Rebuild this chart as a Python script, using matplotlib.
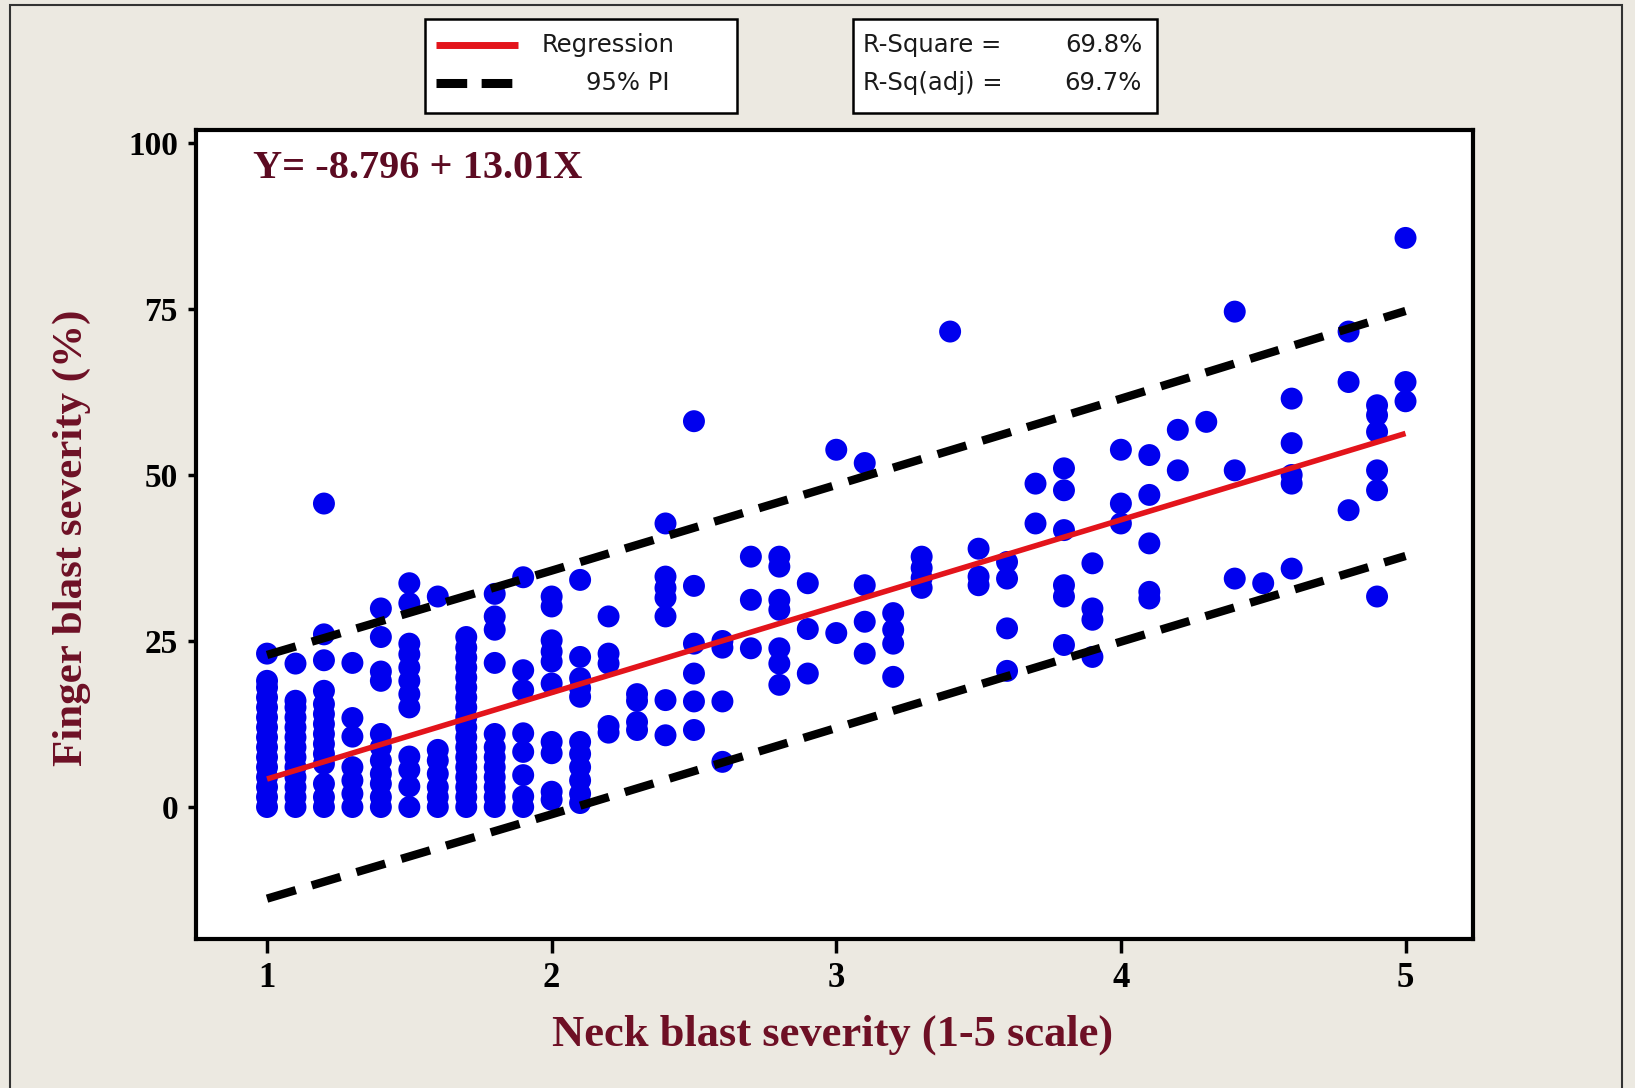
import matplotlib
matplotlib.use("Agg")
import matplotlib.pyplot as plt
from matplotlib.lines import Line2D
from matplotlib.patches import Rectangle

# neck blast score levels and the finger blast readings observed at each level
neck_levels = [1.0, 1.1, 1.2, 1.3, 1.4, 1.5, 1.6, 1.7, 1.8, 1.9,
               2.0, 2.1, 2.2, 2.3, 2.4, 2.5, 2.6, 2.7, 2.8, 2.9,
               3.0, 3.1, 3.2, 3.3, 3.4, 3.5, 3.6, 3.7, 3.8, 3.9,
               4.0, 4.1, 4.2, 4.3, 4.4, 4.5, 4.6, 4.8, 4.9, 5.0]
finger_at_level = [
    [0, 1.5, 3, 4.5, 6, 7.5, 9, 10.5, 12, 13.5, 15, 16.5, 18, 19, 23.1],
    [0, 1.5, 3, 4.5, 6, 7.5, 9, 10.5, 12, 13.5, 15, 16, 21.6],
    [0, 1.5, 3.5, 6.5, 8, 9.5, 11, 12.5, 14, 15.5, 17.5, 22.1, 26, 45.7],
    [0, 2, 4, 6, 10.6, 13.4, 21.7],
    [0, 1.5, 3.5, 5, 7, 9, 11, 19, 20.4, 25.6, 29.9],
    [0, 3.1, 5.6, 7.6, 15, 17, 19, 21, 23, 24.6, 30.7, 33.7],
    [0, 1.5, 3, 5, 7, 8.6, 31.7],
    [0, 1.5, 3, 4.5, 6, 7.5, 9, 10.5, 12, 13.5, 15, 16.5, 18, 19.5, 21, 22.5, 24, 25.6],
    [0, 1.5, 3, 4.5, 6, 7.5, 9, 11, 21.7, 26.7, 28.7, 32.1],
    [0, 1.6, 4.8, 8.3, 11.1, 17.6, 20.6, 34.6],
    [1.1, 2.3, 8.1, 9.8, 18.6, 21.9, 23.4, 25.1, 30.2, 31.7],
    [0.6, 2, 4, 6, 8, 9.8, 16.6, 17.9, 19.4, 22.6, 34.2],
    [11.2, 12.2, 21.6, 23.1, 28.7],
    [11.6, 12.8, 16, 17],
    [10.8, 16.1, 28.7, 31.5, 33, 34.7, 42.7],
    [11.6, 15.9, 20.1, 24.6, 33.3, 58.1],
    [6.8, 15.9, 24, 25],
    [23.9, 31.2, 37.7],
    [18.4, 21.6, 23.9, 29.7, 31.2, 36.2, 37.7],
    [20.1, 26.8, 33.7],
    [26.2, 53.8],
    [23.1, 27.9, 33.4, 51.8],
    [19.6, 24.6, 26.7, 29.2],
    [33, 34.5, 36, 37.7],
    [71.6],
    [33.4, 34.7, 38.9],
    [20.5, 26.9, 34.4, 36.9],
    [42.7, 48.7],
    [24.4, 31.7, 33.4, 41.7, 47.7, 51.0],
    [22.6, 28.2, 29.9, 36.7],
    [42.7, 45.7, 53.8],
    [31.4, 32.4, 39.7, 47.0, 53.0],
    [50.7, 56.8],
    [58.0],
    [34.4, 50.7, 74.6],
    [33.7],
    [35.9, 48.7, 50, 54.8, 61.5],
    [44.7, 64, 71.6],
    [31.7, 47.7, 50.7, 56.5, 59, 60.5],
    [61.1, 64.0, 85.7],
]

# fitted line and 95% prediction interval
intercept = -8.796
slope = 13.01
pi_x = [1, 2, 3, 4, 5]
pi_upper = [22.9, 35.6, 48.5, 61.5, 74.7]
pi_lower = [-13.8, -1.1, 11.9, 24.9, 37.8]
r_sq = 69.8
r_sq_adj = 69.7

xs, ys = [], []
for lvl, vals in zip(neck_levels, finger_at_level):
    for v in vals:
        xs.append(lvl)
        ys.append(v)

bg = "#ECE9E1"
maroon = "#6E1025"
serif = "Liberation Serif"

fig = plt.figure(figsize=(16.35, 10.88), dpi=100, facecolor=bg)
ax = fig.add_axes([0.1199, 0.1365, 0.7810, 0.7440])
ax.set_facecolor("white")

ax.scatter(xs, ys, s=250, color="#0000EE", edgecolors="none", zorder=2)

fit_x = [1, 5]
fit_y = [intercept + slope * x for x in fit_x]
ax.plot(fit_x, fit_y, color="#E3141B", lw=4, solid_capstyle="butt", zorder=3)

dash = (3.6, 2.0)
for band in (pi_upper, pi_lower):
    ax.plot(pi_x, band, color="black", lw=6, dashes=dash,
            dash_capstyle="butt", zorder=3)

ax.set_xlim(0.7506, 5.237)
ax.set_ylim(-19.95, 101.95)
ax.set_xticks([1, 2, 3, 4, 5])
ax.set_yticks([0, 25, 50, 75, 100])
for sp in ax.spines.values():
    sp.set_linewidth(3)
ax.tick_params(axis="y", direction="out", length=6, width=2.5, pad=7)
ax.tick_params(axis="x", direction="out", length=10, width=2.5, pad=6)
for lab in ax.get_yticklabels():
    lab.set_fontfamily(serif)
    lab.set_fontweight("bold")
    lab.set_fontsize(24)
for lab in ax.get_xticklabels():
    lab.set_fontfamily(serif)
    lab.set_fontweight("bold")
    lab.set_fontsize(25)

ax.text(0.0445, 0.952, "Y= -8.796 + 13.01X", transform=ax.transAxes,
        fontfamily=serif, fontweight="bold", fontsize=29, color="#5C0B22",
        ha="left", va="center")

fig.text(0.5095, 0.049, "Neck blast severity (1-5 scale)", fontfamily=serif,
         fontweight="bold", fontsize=32, color=maroon, ha="center", va="center")
fig.text(0.044, 0.506, "Finger blast severity (%)", fontfamily=serif,
         fontweight="bold", fontsize=31, color=maroon, ha="center",
         va="center", rotation=90)

# legend boxes above the plot
W, H = 1635, 1088


def fx(px):
    return px / W


def fy(py):
    return 1 - py / H


for x0, x1 in [(425, 737), (853, 1157)]:
    fig.patches.append(Rectangle((fx(x0), fy(113)), fx(x1) - fx(x0),
                                 fy(19) - fy(113), transform=fig.transFigure,
                                 facecolor="white", edgecolor="black", lw=1.8))

row1, row2 = fy(45), fy(83)
fig.add_artist(Line2D([fx(436), fx(518)], [row1, row1], color="#E3141B",
                      lw=5, solid_capstyle="butt"))
fig.add_artist(Line2D([fx(436), fx(513)], [row2, row2], color="black",
                      lw=6.5, dashes=(3.4, 1.6), dash_capstyle="butt"))

leg_font = dict(fontfamily="DejaVu Sans", fontsize=17.5, color="#1a1a1a", va="center")
fig.text(fx(542), row1, "Regression", ha="left", **leg_font)
fig.text(fx(586), row2, "95% PI", ha="left", **leg_font)
fig.text(fx(863), row1, "R-Square =", ha="left", **leg_font)
fig.text(fx(863), row2, "R-Sq(adj) =", ha="left", **leg_font)
fig.text(fx(1142), row1, f"{r_sq}%", ha="right", **leg_font)
fig.text(fx(1142), row2, f"{r_sq_adj}%", ha="right", **leg_font)

# outer frame of the graph window
fig.patches.append(Rectangle((fx(10), -0.01), fx(1622) - fx(10), 1.01 - 5 / H,
                             transform=fig.transFigure, facecolor="none",
                             edgecolor="#333333", lw=1.5))

fig.savefig("out.png", dpi=100, facecolor=bg)
